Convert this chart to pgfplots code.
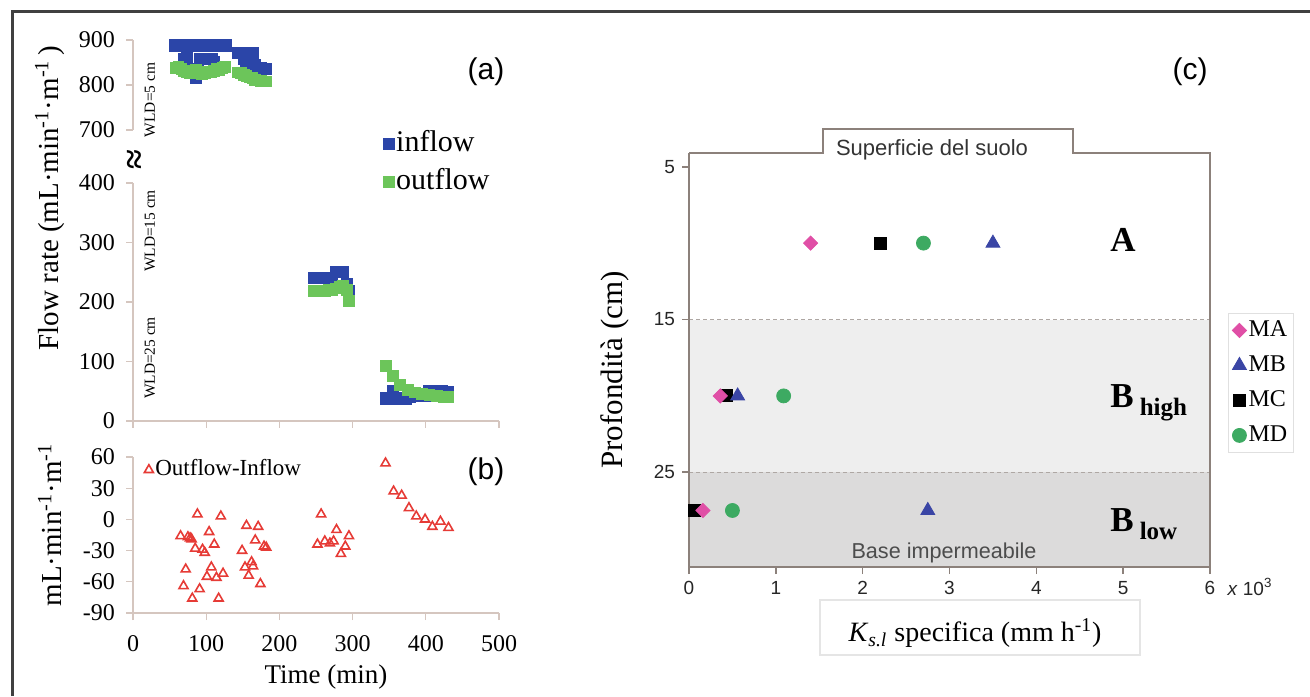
\documentclass[border=0pt]{standalone}
\usepackage{pgfplots}
\pgfplotsset{compat=1.18}
\usepackage{fontspec}
\setmainfont{Liberation Serif}
\newfontfamily\arial{Liberation Sans}
\definecolor{inblue}{HTML}{2B45A8}
\definecolor{outgreen}{HTML}{6CC55A}
\definecolor{tri}{HTML}{E63B36}
\definecolor{axl}{HTML}{D5C6BF}
\definecolor{caxl}{HTML}{8C817B}
\definecolor{cma}{HTML}{E04FA6}
\definecolor{cmb}{HTML}{3A45A5}
\definecolor{cmd}{HTML}{3DAA62}
\definecolor{bhigh}{HTML}{EEEEEE}
\definecolor{blow}{HTML}{DCDBDB}
\pgfplotsset{
  leftpanel/.style={scale only axis, width=183pt, xmin=0, xmax=500,
    tick align=outside, major tick length=3.5pt,
    axis line style={draw=axl, line width=0.6pt},
    tick style={draw=axl, line width=0.6pt},
    yticklabel style={font=\fontsize{12}{13}\selectfont, xshift=-2pt},
    xticklabel style={font=\fontsize{12}{13}\selectfont, yshift=-4pt},
    legend image code/.code={\draw[mark repeat=2,mark phase=2,##1] plot coordinates {(0cm,0cm) (0.1cm,0cm) (0.26cm,0cm)};},
    legend cell align=left},
}
\begin{document}
\begin{tikzpicture}[x=0.5pt,y=0.5pt]
\path[use as bounding box] (0,0) rectangle (1310,696);
\draw[line width=1.5pt, color=black!75] (12,0) -- (12,684) -- (1310,684);

% ---------- panel (a), upper part
\begin{axis}[leftpanel, name=aup, at={(66.5pt,283pt)}, anchor=south west,
  height=45pt, ymin=700, ymax=900, hide x axis, axis y line*=left,
  ytick={700,800,900}, yticklabels={700,800,900}, clip=false]
\addplot[only marks, mark=square*, mark size=2.8pt, color=inblue] coordinates {
(58,888) (62,888) (66,888) (70,858) (74,860) (78,888) (82,888) (86,815) (88,835)
(92,858) (98,888) (102,888) (106,888) (108,858) (110,850) (112,888) (116,888)
(120,888) (124,888) (127,888)
(143,872) (147,872) (151,858) (155,850) (159,872) (163,872) (167,845) (171,838)
(175,838) (179,836) (182,836)};
\addplot[only marks, mark=square*, mark size=2.7pt, color=outgreen] coordinates {
(58,838) (62,840) (66,836) (70,832) (74,828) (78,826) (82,830) (86,834) (90,828)
(94,824) (98,826) (102,830) (106,828) (110,832) (114,836) (118,834) (122,838) (126,840)
(143,828) (147,826) (151,822) (155,820) (159,817) (163,815) (167,812) (171,810)
(175,809) (179,808) (182,808)};
\end{axis}

% ---------- panel (a), lower part
\begin{axis}[leftpanel, name=alow, at={(66.5pt,137.5pt)}, anchor=south west,
  height=119pt, ymin=0, ymax=400, axis x line*=bottom, axis y line*=left,
  xtick={0,100,200,300,400,500}, xticklabels={},
  ytick={0,100,200,300,400}, yticklabels={0,100,200,300,400},
  legend style={at={(0.682,1.232)}, anchor=north west, draw=none, fill=none,
    inner sep=0pt, row sep=3pt, font=\fontsize{15}{16}\selectfont,
    nodes={inner sep=1pt, text height=10.5pt, text depth=3.5pt}}]
\addplot[only marks, mark=square*, mark size=2.8pt, color=inblue] coordinates {
(247,240) (252,240) (257,240) (262,240) (267,240) (272,238) (277,250) (282,250)
(287,250) (292,230) (295,218)
(345,38) (355,50) (360,38) (366,37) (372,38) (378,40) (388,42) (398,42) (405,50)
(412,48) (422,50) (430,48)};
\addlegendentry{inflow}
\addplot[only marks, mark=square*, mark size=2.7pt, color=outgreen] coordinates {
(247,218) (252,218) (257,219) (262,219) (267,220) (272,221) (277,223) (282,226)
(287,228) (292,220) (295,202)
(345,92) (355,76) (365,60) (375,52) (385,48) (395,46) (405,44) (415,42) (425,41) (431,40)};
\addlegendentry{outflow}
\end{axis}

% ---------- panel (b)
\begin{axis}[leftpanel, name=bax, at={(66.5pt,41.5pt)}, anchor=south west,
  height=78pt, ymin=-90, ymax=60, axis x line*=bottom, axis y line*=left,
  xtick={0,100,200,300,400,500}, xticklabels={0,100,200,300,400,500},
  ytick={-90,-60,-30,0,30,60}, yticklabels={-90,-60,-30,0,30,60},
  legend style={at={(0.03,1.0)}, anchor=north west, draw=none, fill=none,
    inner sep=0pt, font=\fontsize{11.5}{12}\selectfont,
    nodes={inner sep=1pt, text height=8pt, text depth=2.5pt}}]
\addplot[only marks, mark=triangle, mark size=2.6pt, color=tri, line width=0.8pt] coordinates {
(65,-16) (69,-64) (72,-48) (75,-17) (78,-18) (80,-19) (81,-76) (85,-28) (88,5) (91,-67)
(95,-29) (98,-32) (101,-55) (104,-12) (107,-46) (111,-24) (114,-56) (117,-76) (120,3) (123,-52)
(149,-30) (153,-46) (155,-6) (158,-54) (162,-41) (164,-45) (167,-20) (171,-7) (174,-62)
(179,-26) (182,-27)
(252,-24) (257,5) (262,-21) (269,-23) (274,-21) (278,-10) (284,-33) (290,-26) (295,-16)
(345,54) (356,27) (367,23) (377,11) (387,3) (399,0) (409,-7) (420,-2) (431,-8)};
\addlegendentry{Outflow-Inflow}
\end{axis}

% ---------- panel (c)
\begin{axis}[name=caxis, at={(344.5pt,64.5pt)}, anchor=south west, scale only axis,
  width=260.5pt, height=207pt, xmin=0, xmax=6, ymin=-31.2, ymax=-4.1,
  axis x line*=bottom, axis y line*=left, axis on top,
  xtick={0,1,2,3,4,5,6}, xticklabels={0,1,2,3,4,5,6},
  ytick={-25,-15,-5}, yticklabels={25,15,5},
  tick align=outside, major tick length=3.5pt,
  axis line style={draw=caxl, line width=0.8pt},
  tick style={draw=caxl, line width=0.8pt},
  tick label style={font=\arial\fontsize{9.5}{10}\selectfont, text=black!85},
  legend image code/.code={\draw[mark repeat=2,mark phase=2,#1] plot coordinates {(0cm,0cm) (0.1cm,0cm) (0.22cm,0cm)};},
  legend cell align=left,
  legend style={at={(1.0345,0.6135)}, anchor=north west, draw=black!12, fill=white,
    inner sep=2pt, row sep=4.5pt, font=\fontsize{12}{12}\selectfont,
    nodes={inner sep=1pt, text height=8.5pt, text depth=2.5pt}}]
\fill[bhigh] (axis cs:0,-15) rectangle (axis cs:6,-25);
\fill[blow] (axis cs:0,-25) rectangle (axis cs:6,-31.2);
\draw[caxl!70, line width=0.6pt, dash pattern=on 2pt off 1.5pt] (axis cs:0,-15) -- (axis cs:6,-15);
\draw[caxl!70, line width=0.6pt, dash pattern=on 2pt off 1.5pt] (axis cs:0,-25) -- (axis cs:6,-25);
\addplot[forget plot, only marks, mark=square*, mark size=3pt, color=black] coordinates {(2.2,-10) (0.43,-20) (0.06,-27.5)};
\addplot[only marks, mark=square*, mark size=2.5pt, mark options={rotate=45}, color=cma] coordinates {(1.4,-10) (0.36,-20) (0.16,-27.5)};
\addlegendentry{MA}
\addplot[only marks, mark=triangle*, mark size=4pt, color=cmb] coordinates {(3.5,-10) (0.56,-20) (2.75,-27.5)};
\addlegendentry{MB}
\addlegendimage{only marks, mark=square*, mark size=3pt, color=black}
\addlegendentry{MC}
\addplot[only marks, mark=*, mark size=3.5pt, color=cmd] coordinates {(2.7,-10) (1.09,-20) (0.5,-27.5)};
\addlegendentry{MD}
\end{axis}
\draw[caxl, line width=0.8pt] (caxis.north west) -- ++(134,0) -- ++(0,24) -- ++(250,0) -- ++(0,-24) -- (caxis.north east) -- (caxis.south east);

% ---------- texts
\node[font=\arial\fontsize{15}{16}\selectfont] at (486,624) {(a)};
\node[font=\arial\fontsize{15}{16}\selectfont] at (486,224) {(b)};
\node[font=\arial\fontsize{15}{16}\selectfont] at (1190,624) {(c)};
\node[rotate=90, font=\bfseries\fontsize{18}{18}\selectfont] at (137,536) {≈};
\node[rotate=90, font=\fontsize{7.7}{8}\selectfont] at (150,596) {WLD=5 cm};
\node[rotate=90, font=\fontsize{7.7}{8}\selectfont] at (150,465) {WLD=15 cm};
\node[rotate=90, font=\fontsize{7.7}{8}\selectfont] at (150,338) {WLD=25 cm};
\node[rotate=90, font=\fontsize{14.5}{15}\selectfont] at (50,498) {Flow rate (mL·min\textsuperscript{-1}·m\textsuperscript{-1}\,)};
\node[rotate=90, font=\fontsize{14.5}{15}\selectfont] at (50,171) {mL·min\textsuperscript{-1}·m\textsuperscript{-1}};
\node[font=\fontsize{13.5}{14}\selectfont] at (326,19) {Time (min)};
\node[rotate=90, font=\fontsize{15.5}{16}\selectfont] at (615,326) {Profondità (cm)};
\draw[black!10, line width=0.6pt] (820,41) rectangle (1140,96);
\node[font=\fontsize{14}{15}\selectfont] at (975,63) {\textit{K}\textsubscript{\textit{s.l}} specifica (mm h\textsuperscript{-1})};
\node[anchor=base west, inner sep=0pt, font=\bfseries\fontsize{17.5}{18}\selectfont] at (1110,444) {A};
\node[anchor=base west, inner sep=0pt, font=\bfseries\fontsize{17.5}{18}\selectfont] at (1110,288) {B\hspace{3pt}\raisebox{-4pt}{\fontsize{12.5}{13}\selectfont high}};
\node[anchor=base west, inner sep=0pt, font=\bfseries\fontsize{17.5}{18}\selectfont] at (1110,164) {B\hspace{3pt}\raisebox{-4pt}{\fontsize{12.5}{13}\selectfont low}};
\node[font=\arial\fontsize{11}{12}\selectfont, text=black!80] at (932,546) {Superficie del suolo};
\node[font=\arial\fontsize{10.8}{12}\selectfont, text=black!70] at (944,143) {Base impermeabile};
\node[font=\arial\fontsize{9.5}{10}\selectfont, text=black!85] at (1250,109) {\textit{x} 10\textsuperscript{3}};
\end{tikzpicture}
\end{document}
